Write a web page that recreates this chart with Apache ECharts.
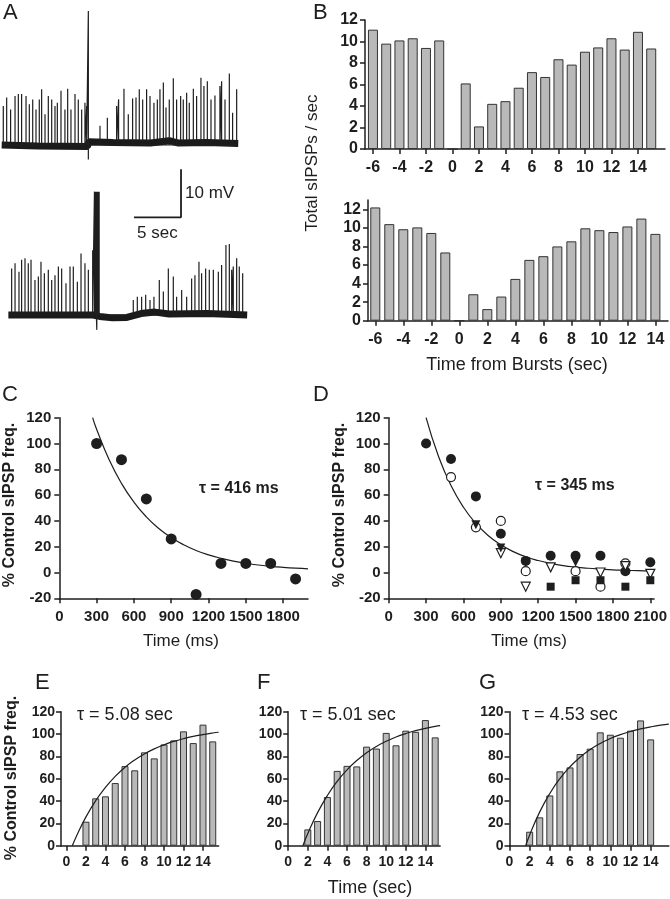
<!DOCTYPE html>
<html><head><meta charset="utf-8">
<script src="https://cdn.jsdelivr.net/npm/echarts@6/dist/echarts.min.js"></script>
<style>html,body{margin:0;padding:0;background:#fff}#c{width:670px;height:899px}</style>
</head><body><div id="c"></div>
<script>
// ---------- Panel A: voltage traces (time in s, amplitude in mV above baseline) ----------
const traceTopSpikes = [[0.35,8.1],[0.71,9.9],[1.13,7.4],[1.60,10.2],[1.95,10.6],[2.30,10.6],[2.77,10.2],[3.12,8.5],[3.48,9.5],[3.83,7.4],[4.18,9.5],[4.43,11.6],[4.79,6.4],[5.14,10.2],[5.50,9.5],[5.85,8.1],[6.10,8.8],[6.49,11.3],[6.91,7.4],[7.20,11.7],[7.55,7.4],[7.98,10.6],[8.33,9.5],[8.69,7.4],[9.04,8.8],[9.22,8.1],[9.40,27.9],[9.40,-3.0],[10.64,4.0],[11.42,5.7],[12.41,8.1],[12.62,9.5],[13.19,11.7],[13.65,6.4],[14.11,9.7],[14.47,9.9],[14.82,11.6],[15.18,9.5],[15.60,11.6],[15.96,10.2],[16.38,8.8],[16.74,9.5],[17.02,11.6],[17.38,13.0],[17.66,7.8],[18.01,9.5],[18.44,13.9],[18.79,9.5],[19.22,10.2],[19.50,9.5],[19.86,10.9],[20.14,8.8],[20.57,11.7],[20.92,10.2],[21.38,14.0],[21.70,12.3],[22.06,13.3],[22.45,9.5],[22.87,10.3],[23.40,12.3],[23.58,13.3],[23.94,9.5],[24.40,14.9],[24.75,6.7],[25.18,11.6]];
const traceTopBaseline = [[0.18,0],[4,-0.2],[9.3,-0.3],[9.45,0.7],[12,0.5],[16,0.4],[18,0.9],[19,0.4],[22,0.5],[25.35,0.3]];
const traceBotSpikes = [[1.24,9.7],[1.60,10.8],[2.02,9.0],[2.30,11.5],[2.66,11.8],[3.01,10.8],[3.30,11.5],[3.72,7.3],[4.08,8.0],[4.36,11.1],[4.72,8.7],[5.14,9.4],[5.50,7.3],[5.85,8.3],[6.21,10.1],[6.56,9.7],[7.02,6.6],[7.45,10.1],[7.80,10.1],[8.23,6.9],[8.62,12.8],[9.04,10.8],[9.40,9.4],[9.86,13.5],[10.05,25.7],[10.15,25.7],[10.25,25.7],[10.30,-3.1],[10.35,25.7],[10.45,25.7],[10.55,25.7],[14.18,3.1],[14.61,3.8],[15.07,3.8],[15.50,4.2],[15.96,3.1],[16.38,3.8],[16.95,7.3],[17.38,4.9],[17.91,9.7],[18.44,8.0],[18.79,3.8],[19.33,5.2],[19.86,3.8],[20.39,7.6],[20.74,8.3],[21.17,11.1],[21.45,8.7],[21.88,9.7],[22.27,9.4],[22.70,9.4],[23.23,9.0],[23.58,10.4],[24.04,14.6],[24.40,14.8],[24.65,9.4],[24.82,10.1],[25.18,11.8],[25.46,10.1],[25.82,8.7]];
const traceBotBaseline = [[0.89,0],[9.9,0],[10.6,-0.3],[12,-0.6],[13.5,-0.5],[15,0.3],[16.5,0.6],[18,0.2],[22,0.3],[26.3,0]];
const scaleBarSec = 5, scaleBarMv = 10;

// ---------- Panel B ----------
const bTickLabels = [-6,-4,-2,0,2,4,6,8,10,12,14];
const bTopTimes = [-6,-5,-4,-3,-2,-1,0,1,2,3,4,5,6,7,8,9,10,11,12,13,14,15];
const bTopRates = [11.1,9.8,10.1,10.3,9.4,10.1,0,6.1,2.1,4.2,4.45,5.7,7.15,6.7,8.35,7.85,9.05,9.45,10.3,9.25,10.9,9.35];
const bBotTimes = [-6,-5,-4,-3,-2,-1,0,1,2,3,4,5,6,7,8,9,10,11,12,13,14];
const bBotRates = [12.2,10.4,9.85,10.05,9.45,7.35,0,2.85,1.25,2.6,4.5,6.55,6.95,8.0,8.55,9.95,9.75,9.55,10.15,11.0,9.35];

// ---------- Panel C ----------
const cTimes = [300,500,700,900,1100,1300,1500,1700,1900];
const cFreq = [100,87.5,57,26,-17,7,7,7,-5];
const cFitT = [268,300,400,500,600,700,800,900,1000,1100,1200,1300,1400,1500,1600,1700,1800,1900,2000];
const cFitY = [120,111,87.6,69.1,54.6,43.1,34.1,27.1,21.5,17.1,13.7,11,8.8,7.2,5.8,4.8,4,3.35,2.85];
const cTickLabels = [0,300,600,900,1200,1500,1800];

// ---------- Panel D ----------
const dFilledCircle = [[300,100],[500,88],[700,59],[900,30],[1100,9],[1300,13],[1500,13],[1700,13],[1900,1],[2100,8]];
const dOpenCircle = [[500,74],[700,35],[900,40],[1100,1],[1500,1],[1700,-11],[1900,7]];
const dFilledTri = [[700,37],[900,19],[1100,8],[1500,8]];
const dOpenTri = [[900,15],[1100,-11],[1300,4],[1700,0],[1900,5],[2100,-1]];
const dFilledSq = [[1300,-11],[1500,-6],[1700,-6],[1900,-11],[2100,-6]];
const dFitT = [300,400,500,600,700,800,900,1000,1100,1200,1300,1400,1500,1600,1700,1800,1900,2000,2100];
const dFitY = [120,89.9,67.4,50.6,38,28.5,21.5,16.2,12.2,9.3,7.1,5.4,4.2,3.3,2.6,2.0,1.7,1.4,1.1];
const dTickLabels = [0,300,600,900,1200,1500,1800,2100];

// ---------- Panels E, F, G ----------
const efgTickLabels = [0,2,4,6,8,10,12,14];
const eTimes = [2,3,4,5,6,7,8,9,10,11,12,13,14,15];
const eFreq = [21.5,42.4,44.2,56.1,71.3,67.5,83.6,78.2,90.7,94.3,102.4,91.9,108.4,93.4];
const eFitT = [0.6,1,2,3,4,5,6,7,8,9,10,11,12,13,14,15,15.6];
const eFitY = [0,8.1,25.8,40.4,52.3,62.1,70.2,76.8,82.2,86.7,90.3,93.4,95.8,97.9,99.5,100.9,101.6];
const fTimes = [2,3,4,5,6,7,8,9,10,11,12,13,14,15];
const fFreq = [14.6,22.1,43.6,67,71.5,71,88.7,87,101,89.9,103,102,112.5,97];
const fFitT = [1.5,2,3,4,5,6,7,8,9,10,11,12,13,14,15,15.5];
const fFitY = [0,10.9,29.6,45.0,57.6,67.9,76.3,83.2,88.9,93.5,97.3,100.4,103.0,105.1,106.8,107.5];
const gTimes = [2,3,4,5,6,7,8,9,10,11,12,13,14];
const gFreq = [12.5,25.4,45,66.6,70.1,82.1,86.9,101.5,99.4,96.7,103,112.2,95.2];
const gFitT = [1.6,2,3,4,5,6,7,8,9,10,11,12,13,14,15,15.8];
const gFitY = [0,9.6,30.3,46.8,60.1,70.7,79.2,86.1,91.6,96.0,99.5,102.3,104.6,106.4,107.9,108.8];

// ---------- build ----------
const FONT = '"Liberation Sans", Arial, sans-serif';
const INK = '#1e1e1e';
const BAR_FILL = '#b9b9b9';
const plain = v => String(v);
const pairs = (xs, ys) => xs.map((x, i) => [x, ys[i]]);
function spikePath(spikes) {
  const out = [];
  spikes.forEach(([t, a]) => { out.push([t, 0], [t, a], [t, 0]); });
  return out;
}
function xAx(gi, min, max, labels, fs, margin, show = true) {
  return {
    type: 'value', gridIndex: gi, min, max, show,
    splitLine: { show: false },
    axisLine: { show: true, onZero: false, lineStyle: { color: INK, width: 1.5 } },
    axisTick: { show: true, length: 5, customValues: labels, lineStyle: { color: INK, width: 1.5 } },
    axisLabel: { show: true, customValues: labels, formatter: plain, hideOverlap: false, margin, color: INK, fontWeight: 'bold', fontFamily: FONT, fontSize: fs }
  };
}
function yAx(gi, min, max, interval, labels, fs, margin, show = true) {
  const o = {
    type: 'value', gridIndex: gi, min, max, show,
    splitLine: { show: false },
    axisLine: { show: true, onZero: false, lineStyle: { color: INK, width: 1.5 } },
    axisTick: { show: true, length: 5, lineStyle: { color: INK, width: 1.5 } },
    axisLabel: { show: true, formatter: plain, margin, color: INK, fontWeight: 'bold', fontFamily: FONT, fontSize: fs }
  };
  if (labels) { o.axisTick.customValues = labels; o.axisLabel.customValues = labels; }
  else o.interval = interval;
  return o;
}
function bars(gi, xs, ys, w) {
  return { type: 'bar', xAxisIndex: gi, yAxisIndex: gi, data: pairs(xs, ys), barWidth: w,
    itemStyle: { color: BAR_FILL, borderColor: '#333', borderWidth: 1 }, silent: true };
}
function curve(gi, xs, ys, w = 1.2) {
  return { type: 'line', xAxisIndex: gi, yAxisIndex: gi, data: pairs(xs, ys), smooth: true, symbol: 'none',
    lineStyle: { color: INK, width: w }, z: 5 };
}
function scat(gi, data, symbol, filled, size, rot = 0) {
  return { type: 'scatter', xAxisIndex: gi, yAxisIndex: gi, data, symbol, symbolSize: size, symbolRotate: rot,
    itemStyle: filled ? { color: INK, opacity: 1 } : { color: '#fff', borderColor: INK, borderWidth: 1.2, opacity: 1 }, z: 6 };
}
function txt(text, x, y, size, weight = 'normal', align = 'left', rot = 0) {
  return { type: 'text', x, y, rotation: rot, z: 100,
    style: { text, font: `${weight} ${size}px ${FONT}`, fill: INK, align, verticalAlign: 'middle', textAlign: align, textVerticalAlign: 'middle' } };
}

const grids = [
  { left: 0, top: 0, width: 250, height: 170 },        // 0 A top
  { left: 0, top: 160, width: 250, height: 175 },      // 1 A bottom
  { left: 365, top: 20, width: 300, height: 129 },     // 2 B top
  { left: 368, top: 200, width: 300, height: 120.7 },  // 3 B bottom
  { left: 59.3, top: 417.7, width: 248.7, height: 180.6 }, // 4 C
  { left: 388.7, top: 417.7, width: 268.4, height: 180.6 },// 5 D
  { left: 61, top: 711.7, width: 157.6, height: 134 },  // 6 E
  { left: 288.2, top: 711.7, width: 151.9, height: 134 },// 7 F
  { left: 509.5, top: 711.7, width: 159.3, height: 134 } // 8 G
];

const xAxis = [
  xAx(0, 0, 26.6, [], 10, 5, false),
  xAx(1, 0, 26.6, [], 10, 5, false),
  xAx(2, -6.6, 16.04, bTickLabels, 16, 11),
  xAx(3, -6.52, 14.9, bTickLabels, 16, 11),
  xAx(4, 0, 2000, cTickLabels, 15, 11),
  xAx(5, 0, 2130, dTickLabels, 15, 11),
  xAx(6, -0.56, 15.6, efgTickLabels, 14, 9),
  xAx(7, 0, 15.5, efgTickLabels, 14, 9),
  xAx(8, 0, 15.8, efgTickLabels, 14, 9)
];
const yAxis = [
  yAx(0, -5.21, 30.21, 10, null, 10, 5, false),
  yAx(1, -4.17, 32.29, 10, null, 10, 5, false),
  yAx(2, 0, 12, 2, null, 16, 7),
  yAx(3, 0, 13, 2, [0,2,4,6,8,10,12], 16, 7),
  yAx(4, -20, 120, 20, null, 15, 8),
  yAx(5, -20, 120, 20, null, 15, 8),
  yAx(6, 0, 120, 20, null, 14, 6),
  yAx(7, 0, 120, 20, null, 14, 6),
  yAx(8, 0, 120, 20, null, 14, 6)
];

// scale bar anchored at the corner (time, mV) of the bottom trace panel
const sbT = 19.26, sbV = 20.35;
const series = [
  { type: 'line', xAxisIndex: 0, yAxisIndex: 0, data: traceTopBaseline, symbol: 'none', lineStyle: { color: '#1a1a1a', width: 7 } },
  { type: 'line', xAxisIndex: 0, yAxisIndex: 0, data: spikePath(traceTopSpikes), symbol: 'none', lineStyle: { color: INK, width: 1.2 } },
  { type: 'line', xAxisIndex: 1, yAxisIndex: 1, data: traceBotBaseline, symbol: 'none', lineStyle: { color: '#1a1a1a', width: 7 } },
  { type: 'line', xAxisIndex: 1, yAxisIndex: 1, data: spikePath(traceBotSpikes), symbol: 'none', lineStyle: { color: INK, width: 1.2 } },
  { type: 'line', xAxisIndex: 1, yAxisIndex: 1, data: [[sbT, sbV + scaleBarMv], [sbT, sbV], [sbT - scaleBarSec, sbV]], symbol: 'none', lineStyle: { color: INK, width: 1.8 } },
  bars(2, bTopTimes, bTopRates, 10),
  bars(3, bBotTimes, bBotRates, 10),
  curve(4, cFitT, cFitY),
  scat(4, pairs(cTimes, cFreq), 'circle', true, 11),
  curve(5, dFitT, dFitY),
  scat(5, dFilledCircle, 'circle', true, 10),
  scat(5, dOpenCircle, 'circle', false, 9),
  scat(5, dOpenTri, 'triangle', false, 9, 180),
  scat(5, dFilledTri, 'triangle', true, 9, 180),
  scat(5, dFilledSq, 'rect', true, 8),
  bars(6, eTimes, eFreq, 7),
  curve(6, eFitT, eFitY),
  bars(7, fTimes, fFreq, 7),
  curve(7, fFitT, fFitY),
  bars(8, gTimes, gFreq, 7),
  curve(8, gFitT, gFitY)
];

const graphic = [
  txt('A', 3, 13, 22), txt('B', 313, 13, 22), txt('C', 2, 395, 22), txt('D', 313, 395, 22),
  txt('E', 35, 683, 22), txt('F', 257, 683, 22), txt('G', 479, 683, 22),
  txt('10 mV', 185, 193, 17), txt('5 sec', 137, 233, 17),
  txt('Total sIPSPs / sec', 312, 163, 17, 'normal', 'center', Math.PI / 2),
  txt('Time from Bursts (sec)', 517, 365, 18, 'normal', 'center'),
  txt('% Control sIPSP freq.', 10, 505, 16, 'bold', 'center', Math.PI / 2),
  txt('% Control sIPSP freq.', 340, 505, 16, 'bold', 'center', Math.PI / 2),
  txt('% Control sIPSP freq.', 12, 778, 16, 'bold', 'center', Math.PI / 2),
  txt('Time (ms)', 181, 641, 17, 'normal', 'center'),
  txt('Time (ms)', 529, 641, 17, 'normal', 'center'),
  txt('Time (sec)', 370, 888, 18, 'normal', 'center'),
  txt('τ = 416 ms', 199, 489, 16, 'bold'),
  txt('τ = 345 ms', 535, 486, 16, 'bold'),
  txt('τ = 5.08 sec', 77, 715, 18),
  txt('τ = 5.01 sec', 300, 715, 18),
  txt('τ = 4.53 sec', 522, 715, 18)
];

const chart = echarts.init(document.getElementById('c'), null, { renderer: 'canvas' });
chart.setOption({ animation: false, backgroundColor: '#fff', grid: grids, xAxis, yAxis, series, graphic });
</script></body></html>
